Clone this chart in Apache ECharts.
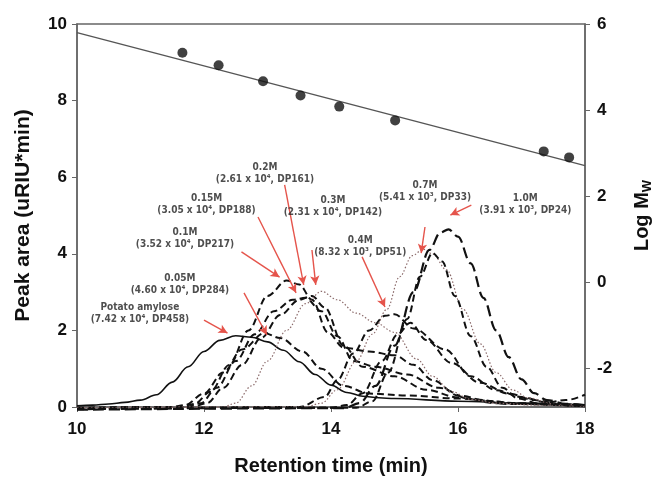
<!DOCTYPE html>
<html>
<head>
<meta charset="utf-8">
<title>Retention time</title>
<script src="https://cdn.jsdelivr.net/npm/echarts@6/dist/echarts.min.js"></script>
<style>
    html, body { margin: 0; padding: 0; background: #fff; }
    #chart { width: 654px; height: 482px; }
</style>
</head>
<body>
<div id="chart"></div>
<script>
// elution curves, [retention time, peak area]
var potato = [[10,0.03],[10.25,0.05],[10.5,0.08],[10.75,0.12],[11.0,0.18],[11.25,0.32],[11.5,0.65],[11.75,1.05],[12.0,1.45],[12.25,1.74],[12.5,1.86],[12.75,1.82],[13.0,1.7],[13.25,1.48],[13.5,1.18],[13.75,0.85],[14.0,0.57],[14.25,0.38],[14.5,0.28],[14.75,0.24],[15,0.22],[16,0.15],[17,0.1],[18,0.05]];
var m005 = [[10,-0.03],[11.5,0],[11.7,0.05],[12,0.35],[12.3,0.9],[12.6,1.5],[12.95,1.93],[13.2,1.8],[13.55,1.45],[13.85,1.0],[14.2,0.55],[14.6,0.35],[15.2,0.3],[16,0.22],[17,0.1],[18,0.03]];
var m01 = [[10,-0.02],[11.6,0],[11.85,0.08],[12.1,0.4],[12.4,1.1],[12.7,2.0],[13.0,2.9],[13.3,3.3],[13.5,3.2],[13.7,2.8],[13.95,1.95],[14.2,1.55],[14.6,1.45],[15.0,1.35],[15.3,1.1],[15.6,0.7],[16.0,0.3],[16.5,0.15],[17.0,0.08],[18,0.03]];
var m015 = [[10,-0.04],[11.7,0],[11.95,0.1],[12.2,0.5],[12.5,1.2],[12.8,1.9],[13.1,2.5],[13.4,2.8],[13.6,2.85],[13.85,2.5],[14.1,1.85],[14.35,1.2],[14.7,1.05],[15.2,0.85],[15.7,0.5],[16.2,0.2],[16.8,0.08],[18,0.02]];
var m02 = [[10,-0.05],[11.8,0],[12.05,0.1],[12.3,0.5],[12.6,1.1],[12.9,1.8],[13.2,2.4],[13.5,2.8],[13.7,2.9],[13.9,2.6],[14.2,1.6],[14.5,1.05],[15.0,0.8],[15.5,0.45],[16.0,0.25],[16.6,0.1],[18,0.02]];
var m03 = [[10,-0.02],[12.3,0],[12.5,0.1],[12.75,0.55],[13.0,1.2],[13.3,2.0],[13.6,2.7],[13.85,3.02],[14.1,2.8],[14.4,2.45],[14.7,2.2],[15.0,1.95],[15.35,1.25],[15.6,0.8],[15.9,0.4],[16.2,0.2],[16.6,0.1],[17.2,0.05],[18,0.02]];
var m04 = [[10,-0.06],[13.5,0],[13.9,0.26],[14.1,0.7],[14.35,1.4],[14.6,2.0],[14.85,2.38],[15.0,2.42],[15.3,2.05],[15.8,1.5],[16.2,0.8],[16.6,0.44],[17.0,0.26],[17.4,0.12],[17.7,0.18],[18,0.32]];
var unlabeledA = [[10,-0.04],[14.0,-0.02],[14.25,0.05],[14.5,0.36],[14.8,1.2],[15.05,1.9],[15.25,2.2],[15.5,1.75],[15.9,1.15],[16.35,0.63],[16.8,0.35],[17.2,0.18],[17.6,0.08],[18,0.04]];
var m07 = [[10,-0.03],[13.6,0],[13.85,0.1],[14.1,0.45],[14.4,1.2],[14.65,1.9],[14.88,2.55],[15.08,3.4],[15.28,3.95],[15.45,4.12],[15.6,4.0],[15.82,3.58],[16.08,2.55],[16.35,1.65],[16.6,0.9],[16.87,0.44],[17.1,0.24],[17.5,0.08],[18,0.03]];
var unlabeledB = [[10,-0.05],[14.4,-0.02],[14.65,0.15],[14.9,0.9],[15.2,2.3],[15.4,3.4],[15.6,4.02],[15.75,3.8],[15.95,2.9],[16.2,1.85],[16.45,1.05],[16.7,0.5],[16.95,0.22],[17.3,0.08],[18,0.02]];
var m10 = [[10,-0.07],[14.2,-0.03],[14.45,0.1],[14.7,0.55],[15.0,1.6],[15.3,3.0],[15.55,4.1],[15.72,4.55],[15.85,4.64],[16.0,4.45],[16.2,3.75],[16.4,2.85],[16.6,2.0],[16.8,1.3],[17.0,0.72],[17.2,0.36],[17.4,0.18],[17.7,0.08],[18,0.05]];

// calibration standards, [retention time, log Mw]
var standards = [[11.66,5.33],[12.23,5.04],[12.93,4.67],[13.52,4.34],[14.13,4.08],[15.01,3.76],[17.35,3.04],[17.75,2.9]];
var fitLine = [[10,5.8],[18,2.71]];

var rightTicks = [-2, 0, 2, 4, 6];

// labels: [x, y, text], arrows: [fromX, fromY, toX, toY]
var labels = [
    [12.96, 6.11, '0.2M\n(2.61 x 10⁴, DP161)'],
    [12.04, 5.30, '0.15M\n(3.05 x 10⁴, DP188)'],
    [14.03, 5.25, '0.3M\n(2.31 x 10⁴, DP142)'],
    [15.48, 5.64, '0.7M\n(5.41 x 10³, DP33)'],
    [17.06, 5.30, '1.0M\n(3.91 x 10³, DP24)'],
    [11.70, 4.41, '0.1M\n(3.52 x 10⁴, DP217)'],
    [14.46, 4.20, '0.4M\n(8.32 x 10³, DP51)'],
    [11.62, 3.21, '0.05M\n(4.60 x 10⁴, DP284)'],
    [10.99, 2.45, 'Potato amylose\n(7.42 x 10⁴, DP458)']
];
var arrows = [
    [12.00, 2.27, 12.37, 1.93],
    [12.63, 2.98, 12.99, 1.88],
    [12.59, 4.05, 13.19, 3.39],
    [12.85, 4.96, 13.45, 2.98],
    [13.27, 5.80, 13.57, 3.19],
    [13.70, 4.10, 13.76, 3.19],
    [14.49, 3.92, 14.85, 2.61],
    [15.48, 4.70, 15.42, 4.02],
    [16.21, 5.27, 15.88, 5.01]
];

var myChart = echarts.init(document.getElementById('chart'));

var dashed = { color: '#111', width: 2, type: [7, 4] };
var dotted = { color: '#8c6b6b', width: 1.2, type: [1.5, 2] };

function curve(name, data, style) {
    return {
        name: name,
        type: 'line',
        data: data,
        smooth: 0.35,
        smoothMonotone: 'x',
        showSymbol: false,
        clip: false,
        lineStyle: style,
        z: 3
    };
}

var axisCol = '#666';
var font = 'Liberation Sans, Arial, sans-serif';
var tickFont = { fontFamily: font, fontWeight: 'bold', fontSize: 17, color: '#111' };

var option = {
    animation: false,
    grid: {
        left: 77, right: 69, top: 24, bottom: 75,
        outerBoundsMode: 'none', containLabel: false,
        show: true, borderColor: axisCol, borderWidth: 1.5
    },
    xAxis: {
        type: 'value', min: 10, max: 18, interval: 2,
        name: 'Retention time (min)', nameLocation: 'middle', nameGap: 49,
        nameTextStyle: { fontFamily: font, fontWeight: 'bold', fontSize: 20, color: '#111' },
        axisLine: { lineStyle: { color: axisCol, width: 1.5 } },
        axisTick: { length: 5, lineStyle: { color: axisCol } },
        axisLabel: Object.assign({ margin: 14 }, tickFont),
        splitLine: { show: false }
    },
    yAxis: [{
        type: 'value', min: 0, max: 10, interval: 2,
        name: 'Peak area (uRIU*min)', nameLocation: 'middle', nameGap: 43,
        nameTextStyle: { fontFamily: font, fontWeight: 'bold', fontSize: 21, color: '#111' },
        axisLine: { lineStyle: { color: axisCol, width: 1.5 } },
        axisTick: { length: 5, lineStyle: { color: axisCol } },
        axisLabel: Object.assign({ margin: 10 }, tickFont),
        splitLine: { show: false }
    }, {
        type: 'value', min: -2.9, max: 6, position: 'right',
        name: '{a|Log M}{b|W}', nameLocation: 'middle', nameGap: 46,
        nameTextStyle: {
            rich: {
                a: { fontFamily: font, fontWeight: 'bold', fontSize: 20, color: '#111' },
                b: { fontFamily: font, fontWeight: 'bold', fontSize: 13, color: '#111', padding: [10, 0, 0, 0] }
            }
        },
        axisLine: { show: true, lineStyle: { color: axisCol, width: 1.5 } },
        axisTick: { show: true, length: 5, customValues: rightTicks, lineStyle: { color: axisCol } },
        axisLabel: Object.assign({ margin: 12, customValues: rightTicks }, tickFont),
        splitLine: { show: false }
    }],
    series: [
        curve('Potato amylose', potato, { color: '#111', width: 1.6, type: 'solid' }),
        curve('0.05M', m005, dashed),
        curve('0.1M', m01, dashed),
        curve('0.15M', m015, dashed),
        curve('0.2M', m02, dashed),
        curve('0.3M', m03, dotted),
        curve('0.4M', m04, dashed),
        curve('unlabeled A', unlabeledA, dashed),
        curve('0.7M', m07, dotted),
        curve('unlabeled B', unlabeledB, dashed),
        curve('1.0M', m10, { color: '#111', width: 2.2, type: [11, 5] }),
        {
            name: 'fit',
            type: 'line',
            yAxisIndex: 1,
            data: fitLine,
            showSymbol: false,
            lineStyle: { color: '#555', width: 1.3 },
            z: 2
        },
        {
            name: 'standards',
            type: 'scatter',
            yAxisIndex: 1,
            data: standards,
            symbolSize: 10,
            itemStyle: { color: '#111' },
            z: 4
        },
        {
            name: 'labels',
            type: 'scatter',
            data: labels.map(function (l) { return { value: [l[0], l[1]], text: l[2] }; }),
            symbolSize: 0,
            silent: true,
            label: {
                show: true, position: 'inside',
                formatter: function (p) { return p.data.text; },
                fontFamily: 'Liberation Sans Narrow, DejaVu Sans Condensed, sans-serif',
                fontWeight: 'bold', fontSize: 10, lineHeight: 12, color: '#222'
            },
            markLine: {
                silent: true,
                symbol: ['none', 'arrow'],
                symbolSize: [7, 9],
                label: { show: false },
                lineStyle: { color: '#e5544b', width: 1.4, type: 'solid' },
                data: arrows.map(function (a) { return [{ coord: [a[0], a[1]] }, { coord: [a[2], a[3]] }]; })
            },
            z: 5
        }
    ]
};
myChart.setOption(option);
</script>
</body>
</html>
